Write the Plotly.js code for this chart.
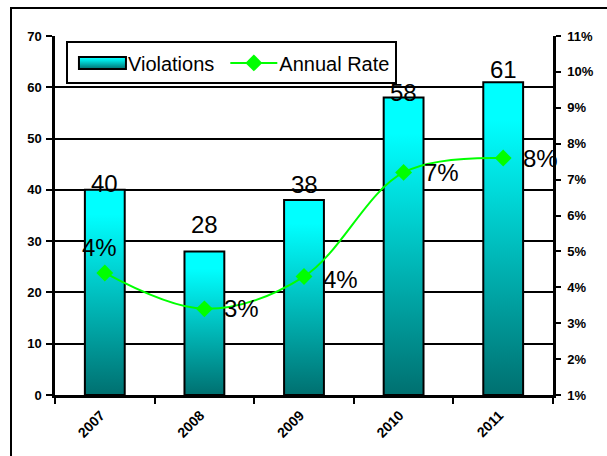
<!DOCTYPE html>
<html>
<head>
<meta charset="utf-8">
<script src="https://cdn.plot.ly/plotly-3.0.1.min.js"></script>
<style>
  html, body { margin: 0; padding: 0; background: #fff; overflow: hidden; }
  #frame { position: absolute; left: 10px; top: 7px; width: 800px; height: 700px; border: 2px solid #000; box-sizing: border-box; }
  #chart { position: absolute; left: 0; top: 0; width: 607px; height: 456px; }
</style>
</head>
<body>
<div id="frame"></div>
<div id="chart"></div>
<script>
// ---- data ----
const years = ['2007', '2008', '2009', '2010', '2011'];
const violations = [40, 28, 38, 58, 61];
const annualRate = [4.4, 3.4, 4.3, 7.2, 7.6];      // percent
const rateLabels = ['4%', '3%', '4%', '7%', '8%'];
const violationLabels = ['40', '28', '38', '58', '61'];

// ---- styles (label placement) ----
const violationLabelLift = [6, 27, 16, 5, 13];
const rateLabelAnchor = ['center', 'left', 'left', 'left', 'left'];
const rateLabelShiftX = [-5, 18, 17, 18, 18];
const rateLabelShiftY = [25, 0, -3, 0, 0];

const FONT = 'Liberation Sans, Arial, sans-serif';

const barTrace = {
  type: 'bar',
  name: 'Violations',
  x: years,
  y: violations,
  width: 0.4,
  marker: { color: '#00b5b5', line: { color: '#000', width: 2 } }
};

const rateTrace = {
  type: 'scatter',
  mode: 'lines+markers',
  name: 'Annual Rate',
  x: years,
  y: annualRate,
  yaxis: 'y2',
  line: { color: '#00ff00', width: 2, shape: 'spline' },
  marker: { symbol: 'diamond', size: 13, color: '#00ff00' }
};

// on a category axis an annotation's x is the category's index
const barAnnotations = years.map((yr, i) => ({
  x: i, y: violations[i], xref: 'x', yref: 'y',
  text: violationLabels[i], showarrow: false,
  yanchor: 'middle', yshift: violationLabelLift[i],
  font: { family: FONT, size: 24, color: '#000' }
}));
const rateAnnotations = years.map((yr, i) => ({
  x: i, y: annualRate[i], xref: 'x', yref: 'y2',
  text: rateLabels[i], showarrow: false,
  xanchor: rateLabelAnchor[i], yanchor: 'middle',
  xshift: rateLabelShiftX[i], yshift: rateLabelShiftY[i],
  font: { family: FONT, size: 24, color: '#000' }
}));

const layout = {
  width: 607, height: 456,
  margin: { l: 55, r: 54, t: 36, b: 61 },
  paper_bgcolor: 'rgba(0,0,0,0)',
  plot_bgcolor: 'rgba(0,0,0,0)',
  font: { family: FONT, color: '#000' },
  showlegend: true,
  xaxis: {
    type: 'category',
    categoryorder: 'array', categoryarray: years,
    range: [-0.5, years.length - 0.5], autorange: false,
    tickangle: -45,
    tickson: 'boundaries',
    ticks: 'outside', ticklen: 6, tickwidth: 2, tickcolor: '#000',
    ticklabelstandoff: 4, ticklabelshift: -4,
    showline: true, linecolor: '#000', linewidth: 2.5,
    tickfont: { family: FONT, size: 14, color: '#000', weight: 'bold' },
    showgrid: false, zeroline: false
  },
  yaxis: {
    range: [0, 70], dtick: 10, autorange: false,
    ticks: 'outside', ticklen: 6, tickwidth: 2, tickcolor: '#000',
    ticklabelstandoff: 2,
    showline: true, linecolor: '#000', linewidth: 2.5,
    showgrid: true, gridcolor: '#000', gridwidth: 2,
    zeroline: false,
    tickfont: { family: FONT, size: 13, color: '#000', weight: 'bold' }
  },
  yaxis2: {
    overlaying: 'y', side: 'right',
    range: [1, 11], dtick: 1, ticksuffix: '%', autorange: false,
    ticks: 'outside', ticklen: 5, tickwidth: 2, tickcolor: '#000',
    ticklabelstandoff: 4,
    showline: true, linecolor: '#000', linewidth: 2.5,
    showgrid: false, zeroline: false,
    tickfont: { family: FONT, size: 13, color: '#000', weight: 'bold' }
  },
  legend: {
    orientation: 'h',
    x: 0.022, xanchor: 'left',
    y: 0.985, yanchor: 'top',
    bgcolor: '#fff', bordercolor: '#000', borderwidth: 2,
    font: { family: FONT, size: 20, color: '#000' },
    itemwidth: 50
  },
  annotations: barAnnotations.concat(rateAnnotations)
};

function styleChart(gd) {
  const svg = gd.querySelector('svg.main-svg');
  const NS = 'http://www.w3.org/2000/svg';
  let defs = svg.querySelector('defs');
  if (!defs) { defs = document.createElementNS(NS, 'defs'); svg.insertBefore(defs, svg.firstChild); }
  const grad = document.createElementNS(NS, 'linearGradient');
  grad.setAttribute('id', 'barGrad');
  grad.setAttribute('x1', '0'); grad.setAttribute('y1', '0');
  grad.setAttribute('x2', '0'); grad.setAttribute('y2', '1');
  [['0', '#00ffff'], ['0.12', '#00ffff'], ['1', '#007070']].forEach(([o, c]) => {
    const s = document.createElementNS(NS, 'stop');
    s.setAttribute('offset', o); s.setAttribute('stop-color', c);
    grad.appendChild(s);
  });
  defs.appendChild(grad);
  gd.querySelectorAll('.barlayer .point path').forEach(p => { p.style.fill = 'url(#barGrad)'; });

  // legend swatches: wide, Excel-like
  gd.querySelectorAll('.legend .traces').forEach(t => {
    const txt = t.querySelector('.legendtext');
    if (!txt) return;
    if (txt.textContent === 'Violations') {
      t.querySelectorAll('.legendpoints path').forEach(p => {
        p.setAttribute('d', 'M-23.5,-6H23.5V6H-23.5Z');
        p.setAttribute('transform', 'translate(34.5,0)');
        p.style.fill = 'url(#barGrad)';
        p.style.stroke = '#000';
        p.style.strokeWidth = '2px';
      });
    } else {
      t.querySelectorAll('.legendlines path').forEach(p => p.setAttribute('d', 'M11,0h47'));
      t.querySelectorAll('.legendsymbols path').forEach(p => p.setAttribute('transform', 'translate(34.5,0)'));
    }
  });
}

Plotly.newPlot('chart', [barTrace, rateTrace], layout, { displayModeBar: false })
  .then(styleChart);
</script>
</body>
</html>
